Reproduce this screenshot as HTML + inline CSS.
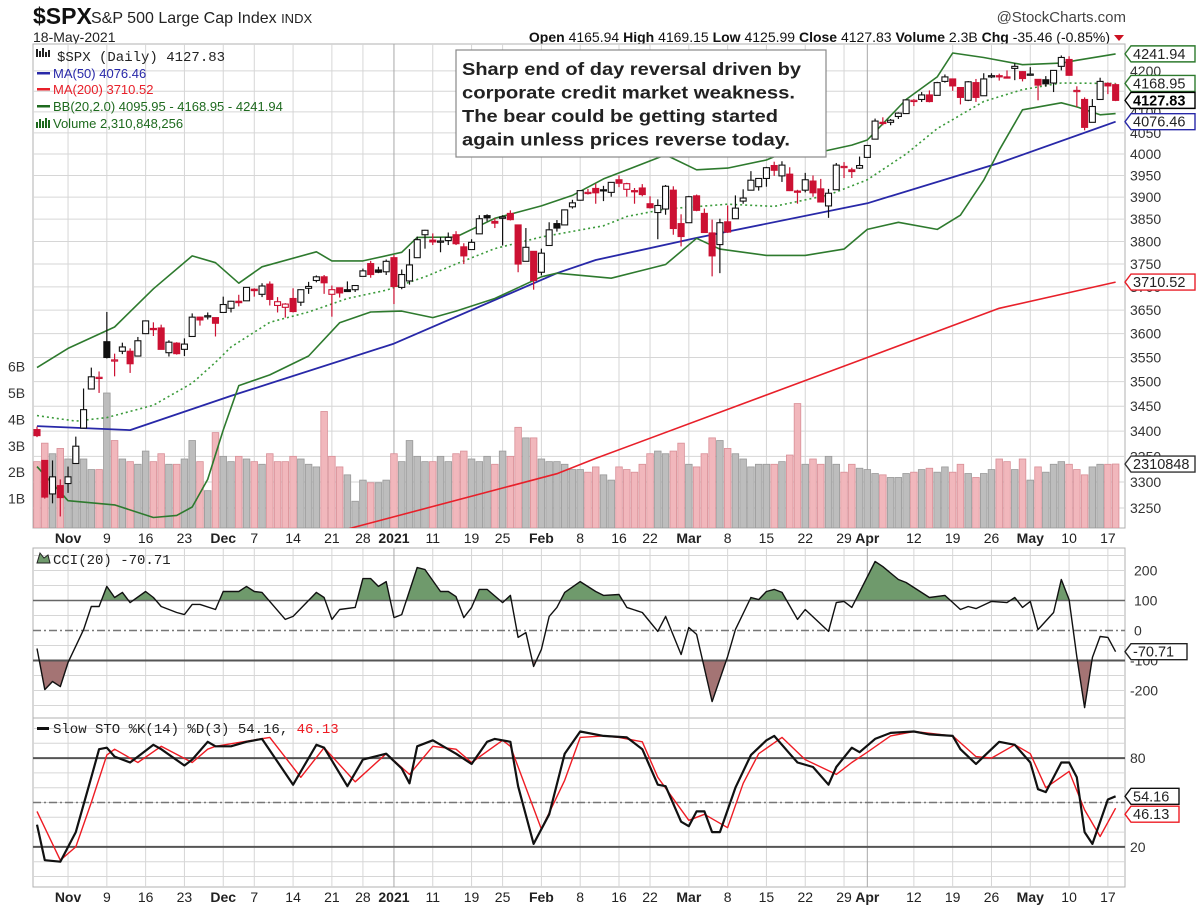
<!DOCTYPE html>
<html><head><meta charset="utf-8"><title>$SPX chart</title>
<style>
html,body{margin:0;padding:0;background:#fff;}
svg{display:block;font-family:"Liberation Sans",Arial,sans-serif;}
</style></head>
<body>
<svg id="chart" width="1200" height="910" viewBox="0 0 1200 910" xmlns="http://www.w3.org/2000/svg">
<defs>
<clipPath id="mainClip"><rect x="33" y="44" width="1092" height="484"/></clipPath>
<clipPath id="cciClip"><rect x="33" y="548" width="1092" height="170"/></clipPath>
<clipPath id="stoClip"><rect x="33" y="718" width="1092" height="169"/></clipPath>
</defs>
<g>
<text x="33" y="24" font-size="23" font-weight="bold" fill="#111">$SPX</text>
<text x="91" y="23" font-size="16" fill="#222">S&amp;P 500 Large Cap Index <tspan font-size="13">INDX</tspan></text>
<text x="33" y="42" font-size="14" fill="#222">18-May-2021</text>
<text x="1126" y="22" font-size="15" fill="#444" text-anchor="end">@StockCharts.com</text>
<text x="1110" y="42" font-size="14" fill="#111" text-anchor="end"><tspan font-weight="bold">Open</tspan> 4165.94 <tspan font-weight="bold">High</tspan> 4169.15 <tspan font-weight="bold">Low</tspan> 4125.99 <tspan font-weight="bold">Close</tspan> 4127.83 <tspan font-weight="bold">Volume</tspan> 2.3B <tspan font-weight="bold">Chg</tspan> -35.46 (-0.85%)</text>
<polygon points="1114,35 1124,35 1119,41" fill="#cc1122"/>
</g>
<g id="layers"></g>
</svg>
<script>
// ---- data ----
const opens=[3403,3342,3277,3293,3297,3336,3406,3485,3508,3583,3544,3563,3563,3553,3600,3611,3612,3560,3580,3567,3594,3635,3638,3634,3645,3654,3669,3670,3695,3684,3706,3660,3656,3675,3667,3697,3714,3722,3684,3698,3694,3694,3723,3751,3737,3733,3764,3699,3713,3764,3815,3803,3801,3802,3815,3788,3782,3817,3858,3845,3852,3863,3837,3756,3778,3732,3791,3840,3837,3878,3893,3910,3920,3917,3911,3940,3918,3915,3921,3885,3865,3873,3916,3840,3842,3903,3863,3819,3793,3844,3851,3891,3916,3924,3943,3973,3949,3953,3914,3916,3937,3919,3880,3917,3969,3963,3967,3992,4035,4075,4075,4089,4096,4125,4130,4141,4140,4174,4180,4159,4128,4171,4139,4185,4188,4185,4206,4198,4192,4179,4178,4170,4211,4228,4151,4130,4075,4130,4169,4166];
const highs=[3409,3342,3342,3305,3330,3389,3486,3529,3521,3646,3558,3581,3569,3593,3628,3624,3619,3586,3582,3590,3643,3636,3645,3634,3679,3670,3683,3699,3697,3708,3712,3678,3665,3697,3695,3711,3725,3726,3703,3698,3712,3703,3740,3757,3744,3760,3770,3738,3783,3811,3826,3818,3810,3820,3823,3796,3805,3859,3861,3852,3859,3870,3837,3830,3778,3784,3843,3848,3872,3894,3916,3919,3931,3926,3934,3950,3933,3921,3930,3902,3895,3928,3925,3861,3903,3906,3874,3849,3851,3881,3904,3918,3960,3944,3970,3982,3983,3969,3917,3956,3950,3942,3919,3979,3981,3968,3994,4021,4084,4087,4083,4099,4129,4131,4148,4152,4173,4191,4180,4160,4175,4180,4194,4194,4193,4201,4219,4199,4209,4179,4187,4202,4238,4236,4162,4135,4131,4183,4172,4169];
const lows=[3388,3268,3259,3234,3279,3336,3405,3485,3477,3548,3511,3557,3518,3553,3600,3595,3567,3552,3556,3553,3594,3617,3630,3594,3645,3645,3658,3670,3679,3678,3660,3645,3634,3645,3659,3685,3710,3685,3636,3677,3689,3689,3723,3720,3730,3726,3663,3695,3705,3764,3784,3792,3776,3792,3792,3750,3781,3817,3845,3830,3791,3847,3732,3756,3694,3725,3791,3822,3837,3874,3892,3906,3885,3891,3901,3923,3901,3885,3902,3874,3805,3860,3815,3789,3842,3868,3819,3723,3730,3819,3851,3885,3916,3915,3924,3949,3935,3914,3885,3911,3901,3889,3853,3917,3944,3944,3965,3992,4035,4068,4068,4083,4096,4114,4124,4123,4140,4171,4151,4118,4126,4124,4139,4182,4176,4181,4177,4174,4188,4128,4161,4148,4201,4188,4112,4056,4075,4130,4143,4126];
const closes=[3391,3271,3310,3270,3310,3370,3443,3510,3509,3550,3545,3572,3537,3585,3627,3610,3567,3582,3558,3578,3635,3629,3638,3622,3662,3669,3666,3699,3692,3702,3673,3668,3663,3647,3694,3701,3722,3709,3694,3687,3690,3703,3735,3727,3732,3756,3701,3727,3748,3804,3825,3799,3801,3809,3795,3768,3798,3851,3853,3841,3855,3849,3750,3787,3714,3774,3826,3830,3871,3887,3915,3911,3910,3916,3934,3932,3931,3913,3906,3876,3881,3925,3829,3811,3901,3870,3820,3768,3842,3821,3875,3898,3939,3943,3968,3962,3974,3915,3913,3940,3910,3889,3909,3974,3971,3959,3973,4020,4078,4074,4080,4097,4129,4128,4141,4125,4171,4185,4163,4135,4173,4135,4180,4188,4187,4183,4211,4181,4192,4165,4168,4201,4233,4189,4152,4063,4113,4174,4163,4127.83];
const volumes=[2.4,3.1,2.7,2.9,2.5,2.9,2.5,2.1,2.1,5.0,3.2,2.5,2.4,2.3,2.8,2.4,2.7,2.3,2.3,2.5,3.2,2.4,1.3,3.5,2.6,2.4,2.6,2.5,2.4,2.3,2.7,2.4,2.4,2.6,2.5,2.3,2.2,4.3,2.6,2.2,1.9,0.9,1.7,1.6,1.6,1.7,2.7,2.4,3.2,2.6,2.4,2.4,2.6,2.4,2.7,2.8,2.5,2.4,2.6,2.3,2.8,2.6,3.7,3.3,3.3,2.5,2.4,2.4,2.3,2.1,2.1,2.0,2.2,1.9,1.7,2.2,2.1,2.0,2.3,2.7,2.8,2.7,2.8,3.1,2.3,2.2,2.7,3.3,3.2,2.9,2.7,2.5,2.2,2.3,2.3,2.3,2.4,2.65,4.6,2.3,2.5,2.3,2.6,2.3,2.0,2.3,2.15,2.1,1.95,1.9,1.8,1.8,1.95,2.0,2.1,2.15,2.0,2.2,2.0,2.3,1.95,1.8,1.95,2.1,2.5,2.4,2.1,2.5,1.7,2.2,2.0,2.3,2.4,2.3,2.1,1.9,2.2,2.3,2.3,2.31];
const ma50Idx=[0,12,25,46,67,72,85,107,124,139];
const ma50Val=[3410,3402,3471,3579,3730,3759,3808,3886,3979,4076.46];
const ma200Idx=[30,41,67,72,107,124,139];
const ma200Val=[3170,3214,3316,3346,3550,3654,3710.52];
const bbUpIdx=[0,4,10,15,20,23,26,29,36,38,42,47,49,54,59,65,69,73,81,85,89,94,97,101,105,107,112,116,118,122,127,132,134,139];
const bbUpVal=[3529,3569,3614,3696,3768,3753,3708,3744,3777,3757,3757,3776,3809,3810,3852,3880,3904,3942,3998,3963,3967,3986,4009,4005,4021,4033,4130,4185,4244,4233,4215,4219,4226,4241.94];
const bbMidIdx=[0,5,9,15,20,23,25,30,35,40,45,50,54,59,65,73,76,81,89,95,102,107,112,116,122,127,132,139];
const bbMidVal=[3431,3420,3427,3452,3497,3540,3572,3624,3646,3675,3693,3722,3750,3784,3810,3835,3856,3873,3884,3879,3905,3940,4000,4060,4125,4154,4170,4168.95];
const bbLoIdx=[0,4,10,15,18,20,22,24,26,30,35,39,43,47,51,54,59,65,67,74,81,85,88,94,99,104,107,111,116,119,122,124,127,132,134,137,139];
const bbLoVal=[3330,3264,3256,3232,3236,3252,3305,3402,3492,3514,3553,3623,3646,3648,3634,3648,3675,3722,3730,3719,3749,3807,3783,3769,3769,3783,3827,3843,3827,3859,3939,4009,4105,4122,4112,4093,4095.95];
const cciIdx=[0,1,2,3,4,6,7,8,9,10,11,12,14,15,16,18,19,20,21,23,24,26,27,28,29,32,33,36,37,38,39,41,42,43,44,45,46,47,49,50,52,53,54,55,56,57,58,60,61,62,63,64,65,66,67,68,70,72,73,75,76,78,80,81,83,84,85,87,89,90,92,93,94,95,96,98,99,102,103,104,105,108,109,111,112,115,117,119,120,121,123,125,126,127,128,129,131,132,133,134,135,136,137,138,139];
const cciVal=[-60,-197,-170,-187,-107,3,80,80,147,110,127,93,130,110,80,60,53,87,87,70,130,130,147,130,127,37,47,127,110,37,70,77,173,173,147,163,43,53,210,203,130,130,113,43,77,137,137,93,117,-23,-7,-120,-63,47,77,127,163,130,117,120,77,60,-3,47,-80,10,-13,-237,-87,3,110,103,130,137,127,37,70,-3,93,97,77,230,213,170,160,110,117,70,80,73,97,93,110,77,97,3,60,170,103,-87,-257,-90,-20,-23,-70.71];
const kIdx=[0,1,3,5,7,8,9,10,12,13,15,16,19,20,22,23,25,27,29,33,36,37,40,42,45,47,48,49,51,54,56,58,59,61,62,64,66,68,70,73,76,78,80,81,83,84,85,86,87,88,90,92,94,95,97,98,100,102,103,105,106,108,110,113,115,118,119,121,122,124,126,128,129,130,132,133,134,135,136,138,139];
const kVal=[35,11,10,30,67,86,87,81,77,81,89,86,75,79,91,88,88,91,93,62,89,87,61,79,83,73,63,88,92,83,76,91,93,91,61,22,42,83,98,95,94,86,62,61,37,34,44,44,30,30,60,82,92,95,83,77,74,62,74,87,84,93,97,98,96,95,86,76,81,91,89,77,59,57,77,77,67,30,22,52,54.16];
const dIdx=[0,3,5,7,9,10,13,16,20,22,23,30,34,37,41,45,48,51,54,56,60,61,65,68,70,73,75,78,80,84,86,89,91,93,96,99,103,105,107,110,113,118,121,123,126,128,130,133,135,137,139];
const dVal=[44,11,20,50,82,86,77,88,77,86,88,94,67,87,64,83,69,88,86,77,92,88,32,65,94,95,94,91,67,38,42,33,63,83,94,79,69,77,84,95,98,95,81,80,89,83,60,71,45,27,46.13];
const tickIdx=[4,9,14,19,24,28,33,38,42,46,51,56,60,65,70,75,79,84,89,94,99,104,107,113,118,123,128,133,138];
const tickLab=["Nov","9","16","23","Dec","7","14","21","28","2021","11","19","25","Feb","8","16","22","Mar","8","15","22","29","Apr","12","19","26","May","10","17"];
const priceTicks=[3250,3300,3350,3400,3450,3500,3550,3600,3650,3700,3750,3800,3850,3900,3950,4000,4050,4100,4150,4200];
const volTicks=[1,2,3,4,5,6];
const cciTicks=[200,100,0,-100,-200];
const stoTicks=[80,20];

// ---- scales ----
const L=33,R=1125,X0=37,STEP=7.76;
const X=i=>X0+i*STEP;
const PY=p=>154-1705*Math.log(p/4000);
const VY=v=>525-v*26.4;
const CY=v=>630.5-v*0.3;
const SY=v=>876.5-v*1.48;
const NS="http://www.w3.org/2000/svg";
const root=document.getElementById('layers');
function mk(tag,attrs,parent){const e=document.createElementNS(NS,tag);for(const k in attrs)e.setAttribute(k,attrs[k]);(parent||root).appendChild(e);return e;}
function pathFrom(idx,val,yf){return idx.map((d,j)=>(j?'L':'M')+X(d).toFixed(1)+','+yf(val[j]).toFixed(1)).join(' ');}

// ---- panels ----
const panels=[{n:'price-panel',y:44,h:484},{n:'cci-panel',y:548,h:170},{n:'stochastic-panel',y:718,h:169}];
panels.forEach(p=>{const r=mk('rect',{x:L,y:p.y,width:R-L,height:p.h,fill:'#fff',stroke:'#b0b0b0','stroke-width':1});

});

// grid
const grid=mk('g',{stroke:'#d6d6d6','stroke-width':1});


priceTicks.forEach(p=>{const l=mk('line',{x1:L,x2:R,y1:PY(p),y2:PY(p)},grid);

});
for(let v=-250;v<=250;v+=50){if(v%100===0&&Math.abs(v)<=100)continue;const l=mk('line',{x1:L,x2:R,y1:CY(v),y2:CY(v)},grid);

}
for(let v=0;v<=100;v+=10){const l=mk('line',{x1:L,x2:R,y1:SY(v),y2:SY(v)},grid);

}
tickIdx.forEach((d,j)=>{const major=(tickLab[j]==='2021'||tickLab[j]==='Apr');
[[44,528],[548,718],[718,887]].forEach(s=>{const l=mk('line',{x1:X(d),x2:X(d),y1:s[0],y2:s[1],stroke:major?'#a8a8a8':'#d6d6d6'},grid);

});});

// date labels
[543,902].forEach((yy,k)=>{const g=mk('g',{'font-size':14,fill:'#222','text-anchor':'middle'});


tickIdx.forEach((d,j)=>{const isM=isNaN(+tickLab[j])||tickLab[j]==='2021';const t=mk('text',{x:X(d),y:yy,'font-weight':isM?'bold':'normal'},g);t.textContent=tickLab[j];

});});

// ---- price panel content ----
const mg=mk('g',{'clip-path':'url(#mainClip)'});


// volume
volumes.forEach((v,i)=>{const down=i>0?closes[i]<closes[i-1]:true;
const b=mk('rect',{x:X(i)-3.3,y:VY(v),width:6.6,height:528-VY(v),fill:down?'#f1b7bc':'#bdbdbd',stroke:down?'#d88f97':'#999','stroke-width':0.8},mg);

});
// MA200, MA50, BB
const lines=[[ma200Idx,ma200Val,'#e8202a',1.6,null,'ma200-line'],[ma50Idx,ma50Val,'#2828a8',1.8,null,'ma50-line'],[bbUpIdx,bbUpVal,'#2e7a2e',1.6,null,'bb-upper-band'],[bbLoIdx,bbLoVal,'#2e7a2e',1.6,null,'bb-lower-band'],[bbMidIdx,bbMidVal,'#3a9a3a',1.6,'2,3','bb-middle-band']];
lines.forEach(a=>{const p=mk('path',{d:pathFrom(a[0],a[1],PY),fill:'none',stroke:a[2],'stroke-width':a[3],'stroke-linejoin':'round'},mg);if(a[4])p.setAttribute('stroke-dasharray',a[4]);

});
// candles
closes.forEach((c,i)=>{const o=opens[i],up=c>=o,red=i>0?c<closes[i-1]:true;const col=red?'#cc1133':'#111';
const g=mk('g',{},mg);


mk('line',{x1:X(i),x2:X(i),y1:PY(highs[i]),y2:PY(lows[i]),stroke:col,'stroke-width':1.2},g);
const top=PY(Math.max(o,c)),bot=PY(Math.min(o,c));
mk('rect',{x:X(i)-3,y:top,width:6,height:Math.max(1.2,bot-top),fill:up?'#fff':col,stroke:col,'stroke-width':1.1},g);});

// legend
const lg=mk('g',{'font-size':13});


const leg=[['$SPX (Daily) 4127.83','#222',61,'"Liberation Mono",monospace',14],['MA(50) 4076.46','#2828a8',78],['MA(200) 3710.52','#e8202a',94],['BB(20,2.0) 4095.95 - 4168.95 - 4241.94','#1e6a1e',111],['Volume 2,310,848,256','#1e6a1e',128]];
leg.forEach((e,j)=>{const t=mk('text',{x:j===0?57:53,y:e[2],fill:e[1]},lg);if(e[3]){t.setAttribute('font-family',e[3]);t.setAttribute('font-size',e[4]);}t.textContent=e[0];


if(j>0&&j<4)mk('rect',{x:37,y:e[2]-6,width:13,height:2.5,fill:e[1]},lg);});
mk('path',{d:'M37,57 v-8 M40,57 v-6 M43,57 v-9 M46,57 v-5 M49,57 v-7',stroke:'#222','stroke-width':2},lg);
mk('path',{d:'M37,128 v-6 M40,128 v-9 M43,128 v-7 M46,128 v-10 M49,128 v-8',stroke:'#1e6a1e','stroke-width':2},lg);

// annotation
const an=mk('g',{});


mk('rect',{x:456,y:50,width:370,height:107,fill:'#fff',stroke:'#888','stroke-width':1.2},an);
['Sharp end of day reversal driven by','corporate credit market weakness.','The bear could be getting started','again unless prices reverse today.'].forEach((s,j)=>{const w=[339,333,316,328][j];
const t=mk('text',{x:462,y:75+j*23.5,'font-size':17.5,'font-weight':'bold',fill:'#222',textLength:w,lengthAdjust:'spacingAndGlyphs'},an);t.textContent=s;

});

// right price axis
const pa=mk('g',{'font-size':14,fill:'#333'});


priceTicks.forEach(p=>{const t=mk('text',{x:1130,y:PY(p)+5},pa);t.textContent=p;

});
const va=mk('g',{'font-size':14,fill:'#333'});


volTicks.forEach(v=>{const t=mk('text',{x:8,y:VY(v)+5},va);t.textContent=v+'B';

});

function tag(val,y,col,bold,w,name){const g=mk('g',{});


mk('polygon',{points:`${R},${y} ${R+6},${y-8} ${R+6+w},${y-8} ${R+6+w},${y+8} ${R+6},${y+8}`,fill:'#fff',stroke:col,'stroke-width':1.4},g);
const t=mk('text',{x:R+8,y:y+5,'font-size':14.5,fill:bold?'#000':'#222','font-weight':bold?'bold':'normal'},g);t.textContent=val;}
tag('4241.94',PY(4241.94),'#2e7a2e',false,64,'bb-upper-tag');
tag('4168.95',PY(4168.95),'#2e7a2e',false,64,'bb-middle-tag');
tag('4127.83',PY(4127.83),'#000',true,64,'close-tag');
tag('4076.46',PY(4076.46),'#2828a8',false,64,'ma50-tag');
tag('3710.52',PY(3710.52),'#e8202a',false,64,'ma200-tag');
tag('2310848',VY(2.31),'#333',false,64,'volume-tag');

// ---- CCI ----
const cg=mk('g',{'clip-path':'url(#cciClip)'});


const cciLine=pathFrom(cciIdx,cciVal,CY);
const area=cciLine+` L${X(cciIdx[cciIdx.length-1])},${CY(100)} L${X(cciIdx[0])},${CY(100)} Z`;
const areaLo=cciLine+` L${X(cciIdx[cciIdx.length-1])},${CY(-100)} L${X(cciIdx[0])},${CY(-100)} Z`;
mk('clipPath',{id:'cciUp'},cg).appendChild(Object.assign(document.createElementNS(NS,'rect'),{}));
document.querySelector('#cciUp rect').setAttribute('x',L);document.querySelector('#cciUp rect').setAttribute('y',548);document.querySelector('#cciUp rect').setAttribute('width',R-L);document.querySelector('#cciUp rect').setAttribute('height',CY(100)-548);
mk('clipPath',{id:'cciDn'},cg).appendChild(document.createElementNS(NS,'rect'));
document.querySelector('#cciDn rect').setAttribute('x',L);document.querySelector('#cciDn rect').setAttribute('y',CY(-100));document.querySelector('#cciDn rect').setAttribute('width',R-L);document.querySelector('#cciDn rect').setAttribute('height',718-CY(-100));
const fu=mk('path',{d:area,fill:'#6f9a6c','clip-path':'url(#cciUp)'},cg);


const fd=mk('path',{d:areaLo,fill:'#a47474','clip-path':'url(#cciDn)'},cg);


[[100,'#666',1.6,null],[-100,'#555',2,null],[0,'#777',1.6,'8,3,2,3']].forEach(a=>{const l=mk('line',{x1:L,x2:R,y1:CY(a[0]),y2:CY(a[0]),stroke:a[1],'stroke-width':a[2]},cg);if(a[3])l.setAttribute('stroke-dasharray',a[3]);

});
const cl=mk('path',{d:cciLine,fill:'none',stroke:'#111','stroke-width':1.4,'stroke-linejoin':'round'},cg);


const ca=mk('g',{'font-size':14,fill:'#333'});


cciTicks.forEach(v=>{const t=mk('text',{x:v<0?1130:1134,y:CY(v)+5},ca);t.textContent=v;

});
tag('-70.71',CY(-70.71),'#222',false,56,'cci-value-tag');
const ct=mk('text',{x:53,y:564,'font-size':14,fill:'#222','font-family':'"Liberation Mono",monospace'});ct.textContent='CCI(20) -70.71';


mk('path',{d:'M37,563 L40,553 L44,558 L48,555 L50,563 Z',fill:'#6f9a6c',stroke:'#222','stroke-width':1});

// ---- Stochastic ----
const sg=mk('g',{'clip-path':'url(#stoClip)'});


[[80,'#555',2,null],[20,'#555',2,null],[50,'#777',1.6,'8,3,2,3']].forEach(a=>{const l=mk('line',{x1:L,x2:R,y1:SY(a[0]),y2:SY(a[0]),stroke:a[1],'stroke-width':a[2]},sg);if(a[3])l.setAttribute('stroke-dasharray',a[3]);

});
const dl=mk('path',{d:pathFrom(dIdx,dVal,SY),fill:'none',stroke:'#ee1c24','stroke-width':1.4,'stroke-linejoin':'round'},sg);


const kl=mk('path',{d:pathFrom(kIdx,kVal,SY),fill:'none',stroke:'#111','stroke-width':2.2,'stroke-linejoin':'round'},sg);


const sa=mk('g',{'font-size':14,fill:'#333'});


stoTicks.forEach(v=>{const t=mk('text',{x:1130,y:SY(v)+5},sa);t.textContent=v;

});
tag('54.16',SY(54.16),'#111',false,48,'sto-k-tag');
tag('46.13',SY(46.13)+6,'#ee1c24',false,48,'sto-d-tag');
const st=mk('text',{x:53,y:733,'font-size':14,fill:'#222','font-family':'"Liberation Mono",monospace'});
st.innerHTML='Slow STO %K(14) %D(3) 54.16, <tspan fill="#ee1c24">46.13</tspan>';


mk('rect',{x:37,y:727,width:12,height:3,fill:'#111'});
</script>
</body></html>
